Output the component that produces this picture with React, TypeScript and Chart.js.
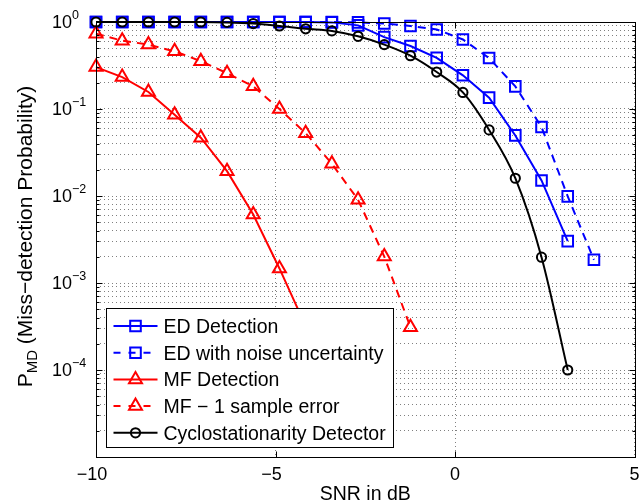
import React, { useEffect, useRef } from 'react';
import { Chart, registerables } from 'chart.js';

Chart.register(...registerables);

// SNR (dB) at each marker
const snrDb = [-10, -9.27, -8.54, -7.81, -7.08, -6.35, -5.62, -4.89, -4.16, -3.43, -2.7, -1.97, -1.24, -0.51, 0.22, 0.95, 1.68, 2.41, 3.14, 3.87];

const edDetection = [1, 1, 1, 1, 1, 1, 1, 1, 1, 0.99, 0.915, 0.67, 0.53, 0.387, 0.244, 0.135, 0.0497, 0.0151, 0.00303];
const edNoiseUncertainty = [1, 1, 1, 1, 1, 1, 1, 1, 1, 1, 0.99, 0.96, 0.9, 0.82, 0.63, 0.385, 0.182, 0.062, 0.0099, 0.00185];
const mfDetection = [0.303, 0.233, 0.157, 0.086, 0.0468, 0.0193, 0.00612, 0.00147, 0.00032, 0.00006];
const mfSampleError = [0.735, 0.61, 0.55, 0.46, 0.355, 0.258, 0.182, 0.1, 0.0528, 0.0235, 0.00906, 0.00201, 0.00031];
const cyclostationary = [1, 1, 1, 1, 1, 0.99, 0.96, 0.9, 0.835, 0.79, 0.685, 0.55, 0.41, 0.266, 0.155, 0.0575, 0.016, 0.00198, 0.0001];

const xTickValues = [-10, -5, 0, 5];
const xTickLabels = ['\u221210', '\u22125', '0', '5'];
const yTickExponents = [0, -1, -2, -3, -4];

const seriesNames = ['ED Detection', 'ED with noise uncertainty', 'MF Detection', 'MF \u2212 1 sample error', 'Cyclostationarity Detector'];
const seriesColors = ['#0000ff', '#0000ff', '#ff0000', '#ff0000', '#000000'];
const seriesStyles = ['rect', 'rect', 'triangle', 'triangle', 'circle'];
const seriesDashed = [false, true, false, true, false];
const seriesValues = [edDetection, edNoiseUncertainty, mfDetection, mfSampleError, cyclostationary];

const FONT = '"Liberation Sans", Arial, Helvetica, sans-serif';
const DASH = [8, 6];
const markerRadius: Record<string, number> = { rect: 7.5, triangle: 7.5, circle: 4.6 };

function drawMarker(ctx: CanvasRenderingContext2D, style: string, x: number, y: number, r: number) {
  ctx.beginPath();
  if (style === 'rect') {
    const s = r * Math.SQRT1_2;
    ctx.rect(x - s, y - s, 2 * s, 2 * s);
  } else if (style === 'circle') {
    ctx.arc(x, y, r, 0, Math.PI * 2);
  } else {
    for (let k = 0; k < 3; k++) {
      const a = (k * 2 * Math.PI) / 3;
      const px = x + Math.sin(a) * r;
      const py = y - Math.cos(a) * r;
      if (k === 0) ctx.moveTo(px, py);
      else ctx.lineTo(px, py);
    }
    ctx.closePath();
  }
  ctx.stroke();
}

const overlay = {
  id: 'overlay',
  afterDraw(chart: any) {
    const { ctx, chartArea: ca, scales } = chart;
    const xs = scales.x;
    const ys = scales.y;
    ctx.save();
    ctx.setLineDash([]);
    ctx.strokeStyle = '#000';
    ctx.lineWidth = 1;
    const L = Math.round(ca.left) + 0.5;
    const R = Math.round(ca.right) + 0.5;
    const T = Math.round(ca.top) + 0.5;
    const B = Math.round(ca.bottom) + 0.5;
    const line = (x1: number, y1: number, x2: number, y2: number) => {
      ctx.beginPath();
      ctx.moveTo(x1, y1);
      ctx.lineTo(x2, y2);
      ctx.stroke();
    };
    // y tick marks (inward, both sides)
    ys.ticks.forEach((t: any) => {
      const lg = Math.log10(t.value);
      const major = Math.abs(lg - Math.round(lg)) < 1e-6;
      const len = major ? 6 : 3;
      const y = Math.round(ys.getPixelForValue(t.value)) + 0.5;
      line(L, y, L + len, y);
      line(R, y, R - len, y);
    });
    // x tick marks
    xTickValues.forEach((v) => {
      const x = Math.round(xs.getPixelForValue(v)) + 0.5;
      line(x, B, x, B - 6);
      line(x, T, x, T + 6);
    });
    // box
    ctx.strokeRect(L, T, R - L, B - T);

    ctx.fillStyle = '#000';
    // y tick labels 10^e
    yTickExponents.forEach((e) => {
      const y = ys.getPixelForValue(Math.pow(10, e));
      ctx.textAlign = 'left';
      ctx.textBaseline = 'alphabetic';
      ctx.font = `18px ${FONT}`;
      ctx.fillText('10', ca.left - 44, y + 6.4);
      ctx.font = `12.5px ${FONT}`;
      ctx.fillText(e === 0 ? '0' : '\u2212' + Math.abs(e), ca.left - 24, y - 3.4);
    });
    // x tick labels
    ctx.font = `18px ${FONT}`;
    ctx.textAlign = 'center';
    xTickValues.forEach((v, i) => {
      const x = xs.getPixelForValue(v) + (v < 0 ? -4 : 0);
      ctx.fillText(xTickLabels[i], x, ca.bottom + 23);
    });
    // x title
    ctx.font = `19.5px ${FONT}`;
    ctx.fillText('SNR in dB', (ca.left + ca.right) / 2, ca.bottom + 42.5);

    // y title, rotated, with subscript
    ctx.save();
    const mainFont = `21px ${FONT}`;
    const subFont = `15px ${FONT}`;
    ctx.font = mainFont;
    const wP = ctx.measureText('P').width;
    const rest = ' (Miss\u2212detection Probability)';
    const wRest = ctx.measureText(rest).width;
    ctx.font = subFont;
    const wSub = ctx.measureText('MD').width;
    const total = wP + wSub + wRest;
    const centerY = (ca.top + ca.bottom) / 2 - 3;
    ctx.translate(31.5, centerY + total / 2);
    ctx.rotate(-Math.PI / 2);
    ctx.textAlign = 'left';
    ctx.font = mainFont;
    ctx.fillText('P', 0, 0);
    ctx.font = subFont;
    ctx.fillText('MD', wP, 5);
    ctx.font = mainFont;
    ctx.fillText(rest, wP + wSub, 0);
    ctx.restore();

    // legend
    const lx = Math.round(ca.left) + 10.5;
    const ly = Math.round(ca.bottom) - 148.5;
    const lw = 287;
    const lh = 139;
    ctx.fillStyle = '#fff';
    ctx.fillRect(lx, ly, lw, lh);
    ctx.strokeStyle = '#000';
    ctx.lineWidth = 1;
    ctx.strokeRect(lx, ly, lw, lh);
    seriesNames.forEach((name, i) => {
      const cy = ly + 17.5 + i * 26.7;
      ctx.strokeStyle = seriesColors[i];
      ctx.lineWidth = 2;
      ctx.setLineDash(seriesDashed[i] ? [7, 8] : []);
      line(lx + 7, cy, lx + 51, cy);
      ctx.setLineDash([]);
      drawMarker(ctx, seriesStyles[i], lx + 29, cy, markerRadius[seriesStyles[i]]);
      ctx.fillStyle = '#000';
      ctx.font = `19.5px ${FONT}`;
      ctx.textAlign = 'left';
      ctx.textBaseline = 'alphabetic';
      ctx.fillText(name, lx + 57, cy + 7);
    });
    ctx.restore();
  },
};

export default function App() {
  const ref = useRef<HTMLCanvasElement>(null);
  useEffect(() => {
    const order = [4, 3, 2, 1, 0];
    const datasets = seriesNames.map((name, i) => ({
      label: name,
      data: seriesValues[i].map((v, k) => ({ x: snrDb[k], y: v })),
      borderColor: seriesColors[i],
      borderWidth: 2,
      borderDash: seriesDashed[i] ? DASH : [],
      pointStyle: seriesStyles[i],
      pointRadius: markerRadius[seriesStyles[i]],
      pointBorderWidth: 2,
      pointBorderColor: seriesColors[i],
      pointBackgroundColor: 'rgba(0,0,0,0)',
      fill: false,
      tension: 0,
      cubicInterpolationMode: i === 4 ? 'monotone' : 'default',
      clip: false,
      order: order[i],
    }));
    const chart = new Chart(ref.current as HTMLCanvasElement, {
      type: 'line',
      data: { datasets } as any,
      options: {
        animation: false,
        responsive: false,
        layout: { padding: { left: 96, top: 22, right: 7, bottom: 47 } },
        plugins: { legend: { display: false }, tooltip: { enabled: false } },
        scales: {
          x: {
            type: 'linear',
            min: -10,
            max: 5,
            ticks: { display: false },
            grid: { color: '#808080', lineWidth: 1, drawTicks: false },
            border: { display: false, dash: [1, 3] },
            afterBuildTicks: (s: any) => {
              s.ticks = xTickValues.map((v) => ({ value: v }));
            },
            afterFit: (s: any) => {
              s.height = 0;
            },
          },
          y: {
            type: 'logarithmic',
            min: 1e-5,
            max: 1,
            ticks: { display: false },
            grid: { color: '#808080', lineWidth: 1, drawTicks: false },
            border: { display: false, dash: [1, 3] },
            afterBuildTicks: (s: any) => {
              const t: { value: number }[] = [];
              for (let e = -5; e < 0; e++) {
                for (let m = 1; m < 10; m++) t.push({ value: m * Math.pow(10, e) });
              }
              t.push({ value: 1 });
              s.ticks = t;
            },
            afterFit: (s: any) => {
              s.width = 0;
            },
          },
        },
      } as any,
      plugins: [overlay],
    });
    return () => chart.destroy();
  }, []);
  return (
    <div style={{ position: 'fixed', left: 0, top: 0, width: 644, height: 504, background: '#fff' }}>
      <canvas ref={ref} width={644} height={504} style={{ display: 'block' }} />
    </div>
  );
}
